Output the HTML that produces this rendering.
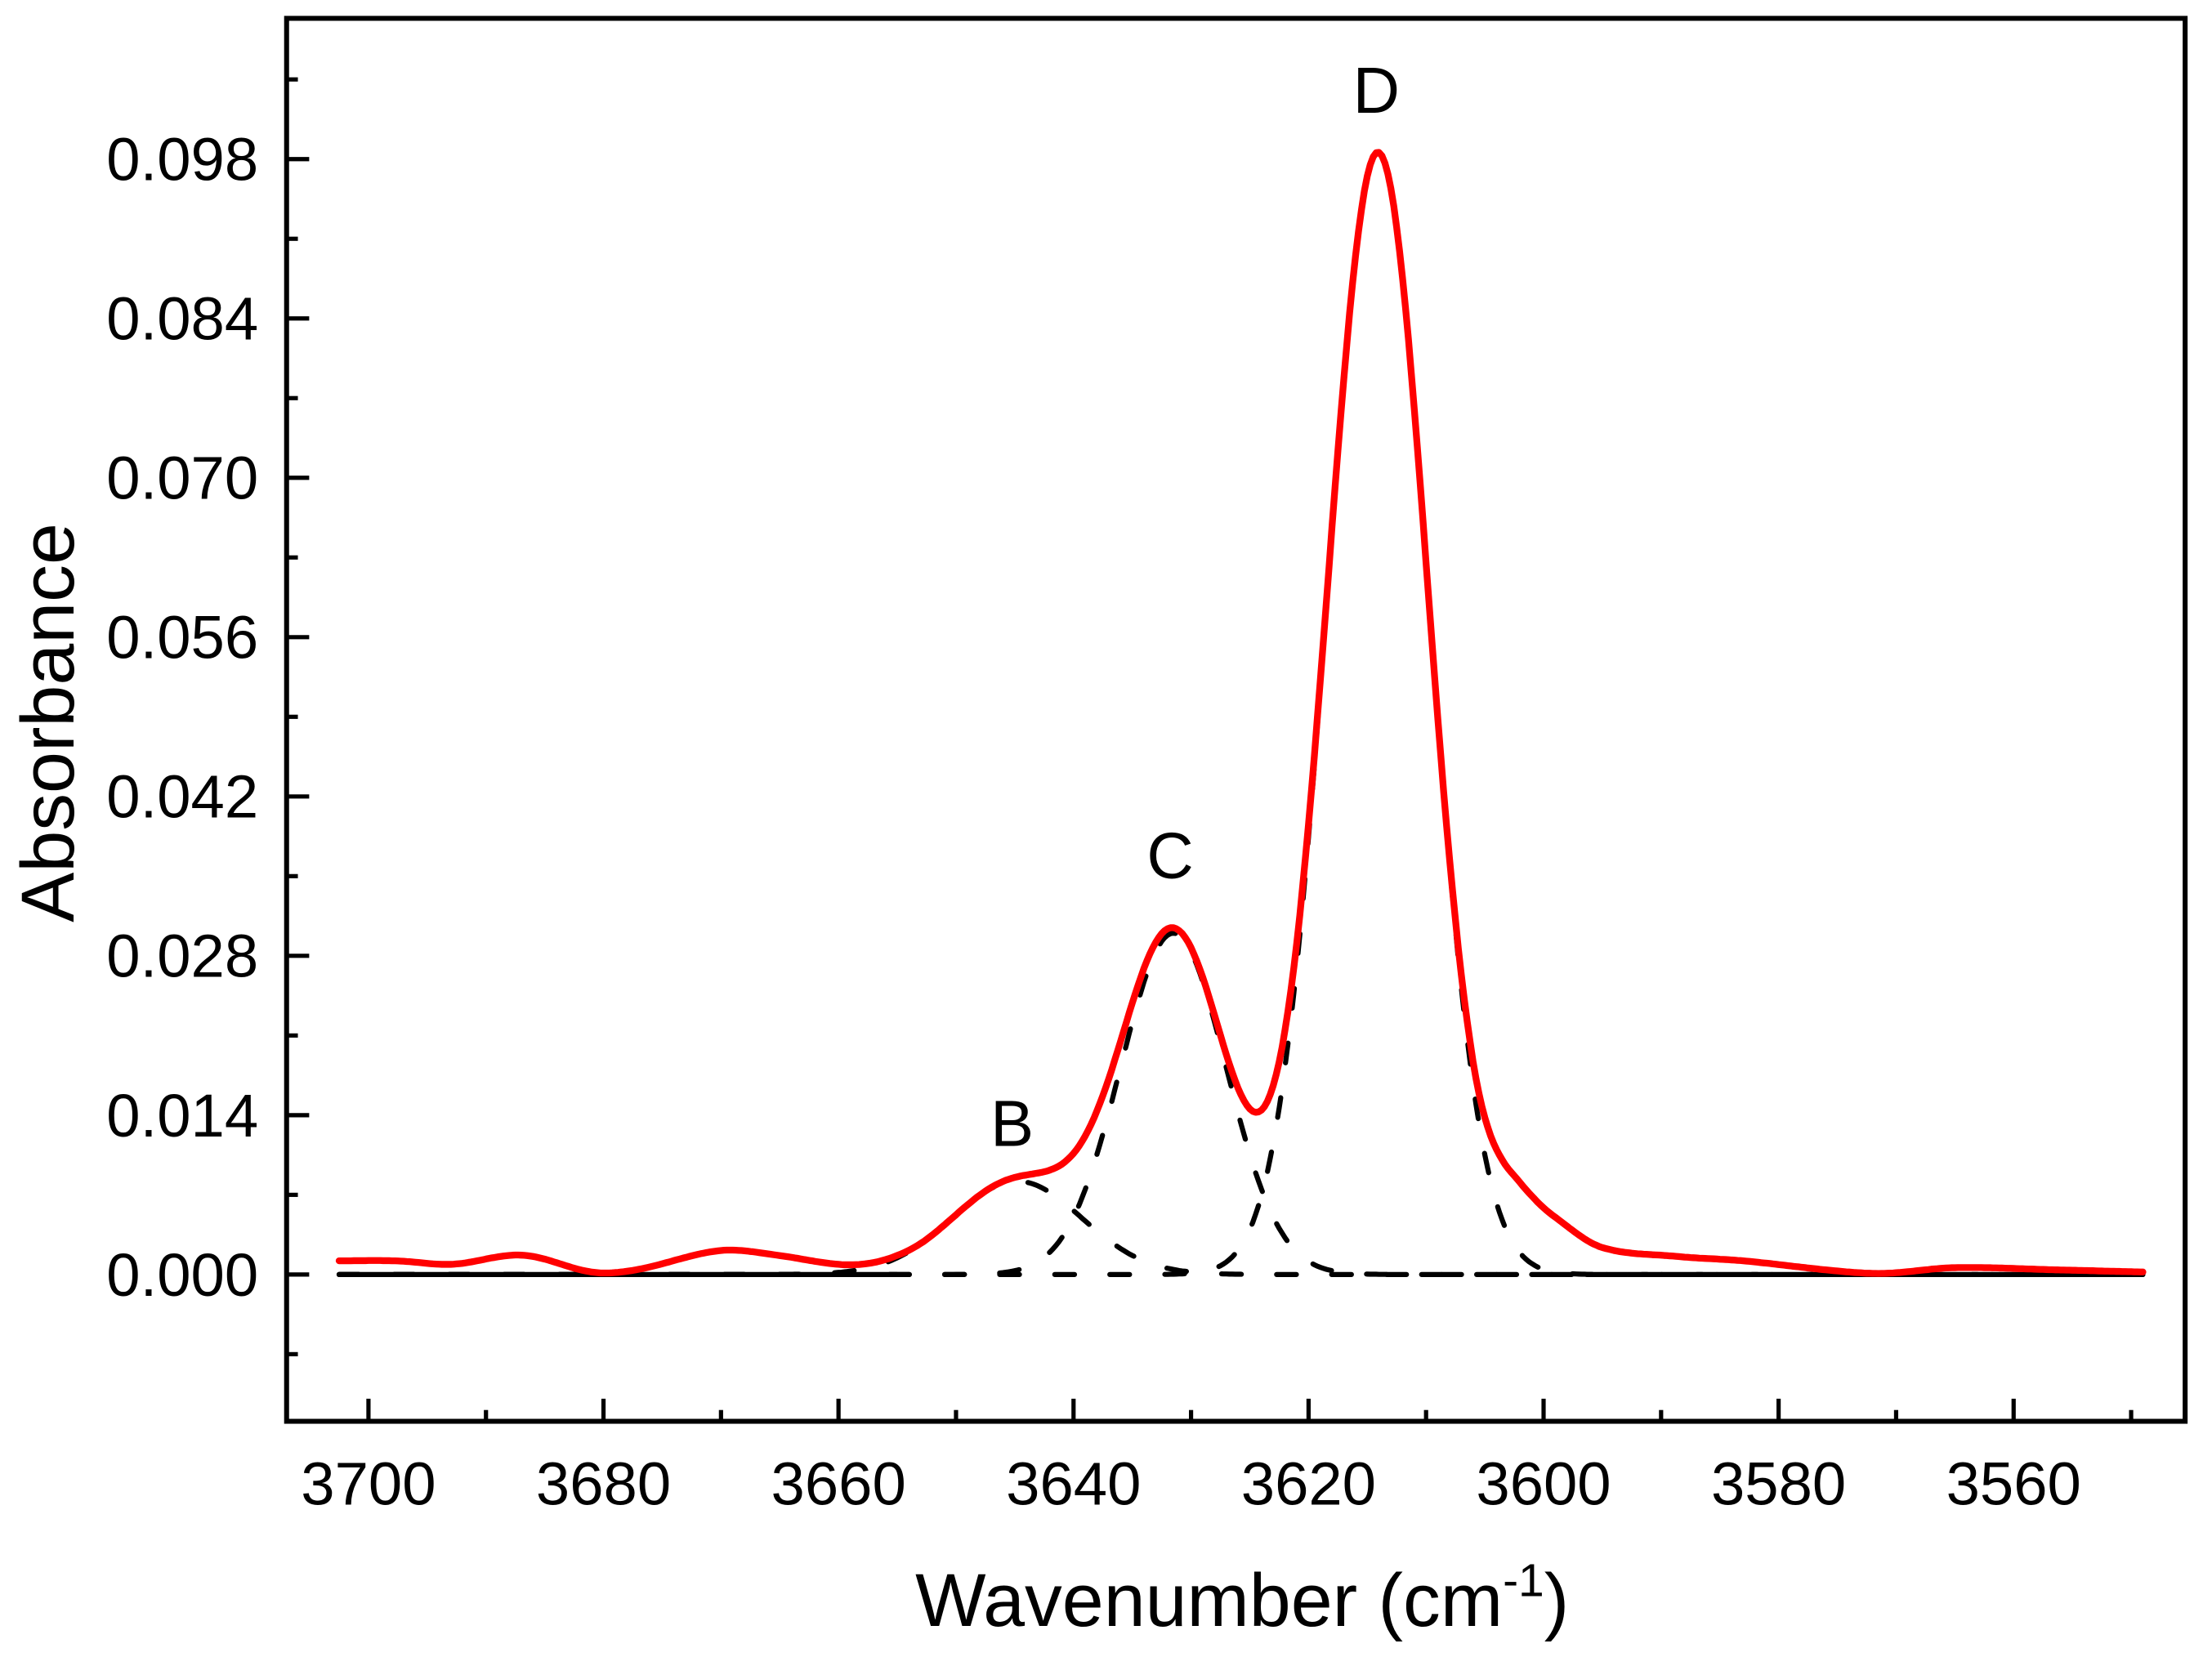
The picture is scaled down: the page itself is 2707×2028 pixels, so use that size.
<!DOCTYPE html>
<html><head><meta charset="utf-8"><style>html,body{margin:0;padding:0;background:#fff}svg{display:block}</style></head>
<body>
<svg id="s" xmlns="http://www.w3.org/2000/svg" width="2707" height="2028" viewBox="0 0 1567 1174" font-family="Liberation Sans, Arial, sans-serif">
<rect width="1567" height="1174" fill="#fff"/>
<g id="ticks" stroke="#000" stroke-width="3"></g>
<g id="labels" font-size="43" fill="#000"></g>
<path id="base" fill="none" stroke="#000" stroke-width="3.6"/>
<path id="gB" fill="none" stroke="#000" stroke-width="3.6" stroke-linecap="round" stroke-dasharray="14 25"/>
<path id="gC" fill="none" stroke="#000" stroke-width="3.6" stroke-linecap="round" stroke-dasharray="14 25"/>
<path id="gD" fill="none" stroke="#000" stroke-width="3.6" stroke-linecap="round" stroke-dasharray="14 25"/>
<path id="red" fill="none" stroke="#f00" stroke-width="4.8" stroke-linejoin="round" stroke-linecap="round"/>
<rect x="203" y="13" width="1345" height="994" fill="none" stroke="#000" stroke-width="3.5"/>
<text x="975" y="80" font-size="46" text-anchor="middle">D</text>
<text x="829" y="622" font-size="46" text-anchor="middle">C</text>
<text x="717" y="812" font-size="46" text-anchor="middle">B</text>
<text x="880" y="1152" font-size="53" text-anchor="middle">Wavenumber (cm<tspan font-size="33" dy="-21">-1</tspan><tspan dy="21">)</tspan></text>
<text transform="translate(52,512) rotate(-90)" font-size="53" text-anchor="middle">Absorbance</text>
</svg>
<script>
var X=function(w){return 261+(3700-w)*8.325;};
var Y=function(v){return 903-v*8064;};
var t=document.getElementById('ticks'),l=document.getElementById('labels'),ns='http://www.w3.org/2000/svg';
function ln(x1,y1,x2,y2){var e=document.createElementNS(ns,'line');e.setAttribute('x1',x1);e.setAttribute('y1',y1);e.setAttribute('x2',x2);e.setAttribute('y2',y2);t.appendChild(e);}
function tx(x,y,s,a){var e=document.createElementNS(ns,'text');e.setAttribute('x',x);e.setAttribute('y',y);e.setAttribute('text-anchor',a);e.textContent=s;l.appendChild(e);}
for(var w=3700;w>=3550;w-=10){var x=X(w),maj=(w%20==0);ln(x,1007,x,1007-(maj?16:8));if(maj)tx(x,1066,String(w),'middle');}
for(var k=-1;k<=15;k++){var v=k*0.007,y=Y(v);if(y<14)continue;var maj=(k>=0&&k%2==0);ln(203,y,203+(maj?16:8),y);if(maj)tx(183,y+15,v.toFixed(3),'end');}
function g(w,c,h,s){return h*Math.exp(-0.5*Math.pow((w-c)/s,2));}
var ex=[[3705,.0012],[3703,.0012],[3697.7,.0012],[3692.9,.0009],[3686.9,.0017],[3680.9,.0002],[3677.3,.0004],[3670.1,.0021],[3665.3,.0017],[3659.3,.0006],[3655,.0002],[3652,0],[3612,0],[3609,0],[3606,.002],[3603.6,.0052],[3602,.0062],[3599.3,.005],[3595.1,.0024],[3588.8,.0016],[3583,.0012],[3574.9,.0003],[3571,.0001],[3565,.0006],[3556,.0004],[3548,.0002],[3545,.0002]];
function E(w){for(var i=0;i<ex.length-1;i++){var a=ex[i],b=ex[i+1];if(w<=a[0]&&w>=b[0]){var p0=ex[Math.max(0,i-1)],p3=ex[Math.min(ex.length-1,i+2)];var f=(a[0]-w)/(a[0]-b[0]);
var h=a[0]-b[0];var m1=(b[1]-p0[1])/(p0[0]-b[0])*h,m2=(p3[1]-a[1])/(a[0]-p3[0])*h;if(i==0)m1=0;if(i+2>=ex.length)m2=0;
var f2=f*f,f3=f2*f;var r=(2*f3-3*f2+1)*a[1]+(f3-2*f2+f)*m1+(-2*f3+3*f2)*b[1]+(f3-f2)*m2;return Math.max(0,r);}}return 0;}
var pB='',pC='',pD='',pR='';
for(var w=3702.5;w>=3548.8;w-=0.25){var x=X(w).toFixed(1),b=g(w,3644.8,.0082,5.5),c=g(w,3631.5,.0300,4.5),d=g(w,3614.1,.0986,4.3);var cmd=(w==3702.5)?'M':'L';
pB+=cmd+x+' '+Y(b).toFixed(1);pC+=cmd+x+' '+Y(c).toFixed(1);pD+=cmd+x+' '+Y(d).toFixed(1);pR+=cmd+x+' '+Y(b+c+d+E(w)).toFixed(1);}
document.getElementById('gB').setAttribute('d',pB);document.getElementById('gC').setAttribute('d',pC);document.getElementById('gD').setAttribute('d',pD);document.getElementById('red').setAttribute('d',pR);document.getElementById('base').setAttribute('d','M'+X(3702.5)+' '+Y(0)+'L'+X(3655)+' '+Y(0));
</script>
</body></html>
